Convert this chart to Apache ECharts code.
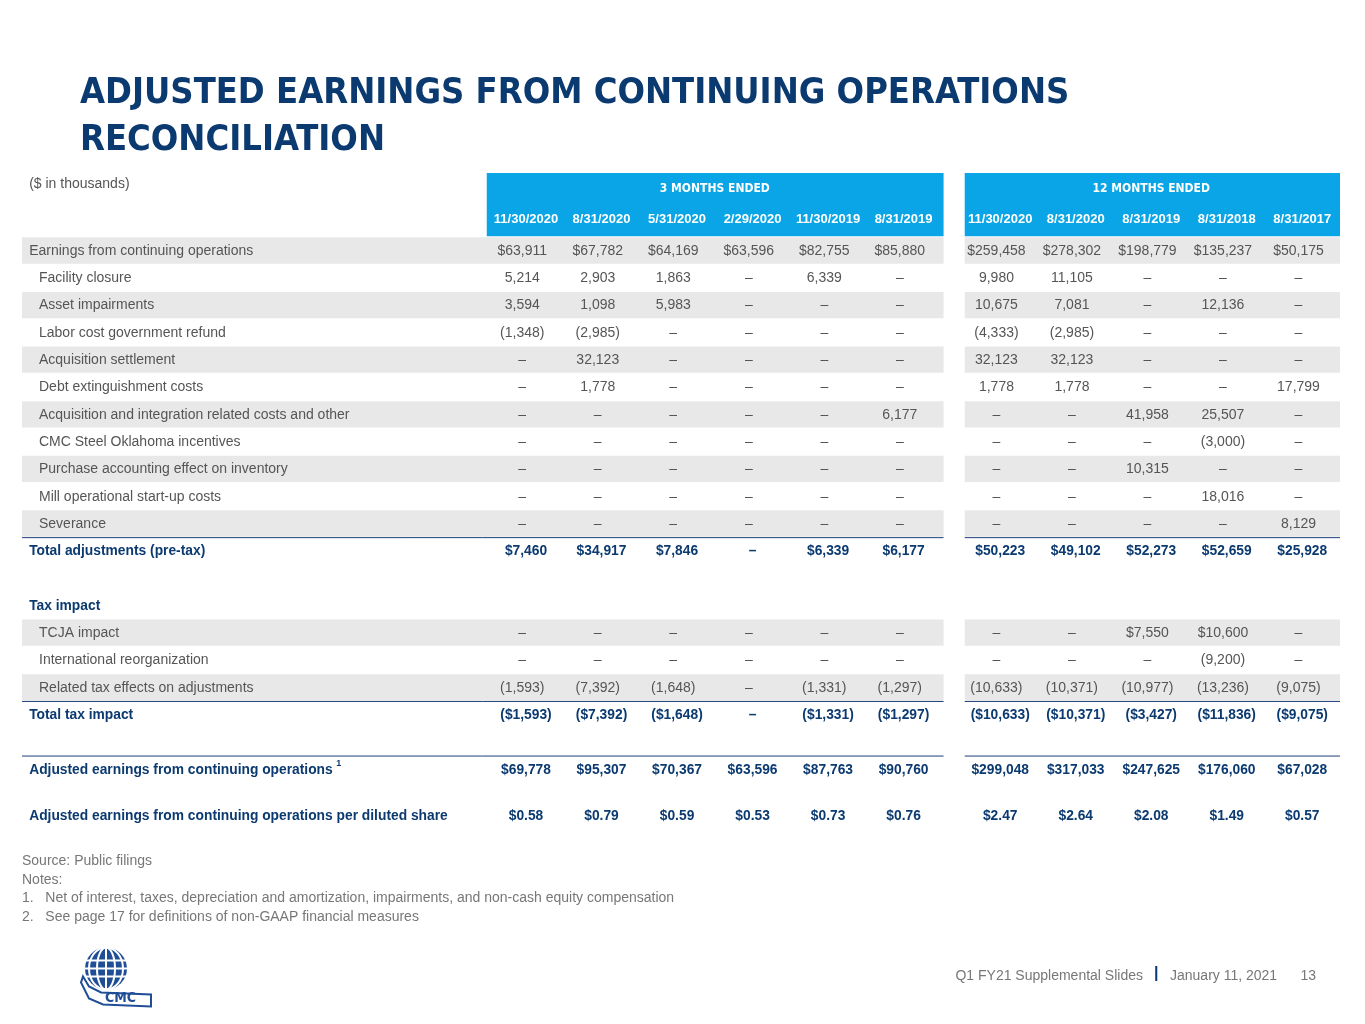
<!DOCTYPE html>
<html><head><meta charset="utf-8">
<script src="https://cdn.jsdelivr.net/npm/echarts@6/dist/echarts.min.js"></script>
<style>html,body{margin:0;padding:0;background:#fff}#c{width:1365px;height:1024px}</style>
</head><body><div id="c"></div>
<script>
const cols3 = ['11/30/2020','8/31/2020','5/31/2020','2/29/2020','11/30/2019','8/31/2019'];
const cols12 = ['11/30/2020','8/31/2020','8/31/2019','8/31/2018','8/31/2017'];
const D='–';
const earnings      = ['$63,911','$67,782','$64,169','$63,596','$82,755','$85,880','$259,458','$278,302','$198,779','$135,237','$50,175'];
const facility      = ['5,214','2,903','1,863',D,'6,339',D,'9,980','11,105',D,D,D];
const impairments   = ['3,594','1,098','5,983',D,D,D,'10,675','7,081',D,'12,136',D];
const laborRefund   = ['(1,348)','(2,985)',D,D,D,D,'(4,333)','(2,985)',D,D,D];
const acqSettlement = [D,'32,123',D,D,D,D,'32,123','32,123',D,D,D];
const debtExt       = [D,'1,778',D,D,D,D,'1,778','1,778',D,D,'17,799'];
const acqIntegration= [D,D,D,D,D,'6,177',D,D,'41,958','25,507',D];
const oklahoma      = [D,D,D,D,D,D,D,D,D,'(3,000)',D];
const purchaseAcct  = [D,D,D,D,D,D,D,D,'10,315',D,D];
const millStartup   = [D,D,D,D,D,D,D,D,D,'18,016',D];
const severance     = [D,D,D,D,D,D,D,D,D,D,'8,129'];
const totalAdj      = ['$7,460','$34,917','$7,846',D,'$6,339','$6,177','$50,223','$49,102','$52,273','$52,659','$25,928'];
const tcja          = [D,D,D,D,D,D,D,D,'$7,550','$10,600',D];
const intlReorg     = [D,D,D,D,D,D,D,D,D,'(9,200)',D];
const relatedTax    = ['(1,593)','(7,392)','(1,648)',D,'(1,331)','(1,297)','(10,633)','(10,371)','(10,977)','(13,236)','(9,075)'];
const totalTax      = ['($1,593)','($7,392)','($1,648)',D,'($1,331)','($1,297)','($10,633)','($10,371)','($3,427)','($11,836)','($9,075)'];
const adjusted      = ['$69,778','$95,307','$70,367','$63,596','$87,763','$90,760','$299,048','$317,033','$247,625','$176,060','$67,028'];
const perShare      = ['$0.58','$0.79','$0.59','$0.53','$0.73','$0.76','$2.47','$2.64','$2.08','$1.49','$0.57'];

const rows = [
 ['Earnings from continuing operations', earnings,'main',0],
 ['Facility closure', facility,'sub',1],
 ['Asset impairments', impairments,'sub',2],
 ['Labor cost government refund', laborRefund,'sub',3],
 ['Acquisition settlement', acqSettlement,'sub',4],
 ['Debt extinguishment costs', debtExt,'sub',5],
 ['Acquisition and integration related costs and other', acqIntegration,'sub',6],
 ['CMC Steel Oklahoma incentives', oklahoma,'sub',7],
 ['Purchase accounting effect on inventory', purchaseAcct,'sub',8],
 ['Mill operational start-up costs', millStartup,'sub',9],
 ['Severance', severance,'sub',10],
 ['Total adjustments (pre-tax)', totalAdj,'total',11],
 ['Tax impact', null,'total',13],
 ['TCJA impact', tcja,'sub',14],
 ['International reorganization', intlReorg,'sub',15],
 ['Related tax effects on adjustments', relatedTax,'sub',16],
 ['Total tax impact', totalTax,'total',17],
 ['Adjusted earnings from continuing operations', adjusted,'total',19],
 ['Adjusted earnings from continuing operations per diluted share', perShare,'total',20.7]
];
const shaded=[0,2,4,6,8,10,14,16];
const colX = i => i<6 ? i : i+0.28;

const NAVY='#0b3a70', GREY='#555', BLUE='#0aa5e6';
const FB='bold 13.8px "Liberation Sans", Arial', FN='14px "Liberation Sans", Arial';
const texts=[];
rows.forEach(r=>{
  const bold=r[2]==='total';
  texts.push({x: r[2]==='sub'? -6.45 : -6.58, y:r[3], t:r[0], align:'left', fill: bold?NAVY:GREY, font: bold?FB:FN, sup: r[3]===19});
  if(r[1]) r[1].forEach((v,i)=>texts.push({x:colX(i)+(bold?0:-0.05), y:r[3], t:v, align:'center', fill: bold?NAVY:GREY, font: bold?FB:FN}));
});
cols3.concat(cols12).forEach((c,i)=>texts.push({x:colX(i),y:-1.14,t:c,align:'center',fill:'#fff',font:'bold 13px "Liberation Sans", Arial'}));
texts.push({x:2.5,y:-2.27,t:'3 MONTHS ENDED',align:'center',fill:'#fff',font:'bold 12px "DejaVu Sans Condensed", Arial'});
texts.push({x:8.28,y:-2.27,t:'12 MONTHS ENDED',align:'center',fill:'#fff',font:'bold 12px "DejaVu Sans Condensed", Arial'});
texts.push({x:-6.58,y:-2.45,t:'($ in thousands)',align:'left',fill:GREY,font:FN});

const rects=[];
rects.push([-0.52,5.53,-2.86,-0.5,BLUE]);
rects.push([5.81,10.78,-2.86,-0.5,BLUE]);
shaded.forEach(r=>{
  rects.push([-6.675,5.53,r-0.5,r+0.5,'#e8e8e8']);
  rects.push([5.81,10.78,r-0.5,r+0.5,'#e8e8e8']);
});
const lines=[];
[10.5,16.5,18.5].forEach(y=>{lines.push([-6.675,5.53,y]);lines.push([5.81,10.78,y]);});

const chart=echarts.init(document.getElementById('c'));
chart.setOption({
  animation:false,
  grid:{left:22,width:1318,top:169.1,height:655.2},
  xAxis:{type:'value',min:-6.675,max:10.78,show:false},
  yAxis:{type:'value',min:-3,max:21,inverse:true,show:false},
  series:[
    {type:'custom',data:rects.map(r=>[r[0],r[2]]),renderItem:(p,api)=>{
      const r=rects[p.dataIndex];const a=api.coord([r[0],r[2]]),b=api.coord([r[1],r[3]]);
      return {type:'rect',shape:{x:a[0],y:a[1],width:b[0]-a[0],height:b[1]-a[1]-1},style:{fill:r[4]}};}},
    {type:'custom',data:lines.map(l=>[l[0],l[2]]),renderItem:(p,api)=>{
      const l=lines[p.dataIndex];const a=api.coord([l[0],l[2]]),b=api.coord([l[1],l[2]]);
      return {type:'line',shape:{x1:a[0],y1:a[1],x2:b[0],y2:b[1]},style:{stroke:'#1c3f78',lineWidth:1}};}},
    {type:'custom',data:texts.map(t=>[t.x,t.y]),renderItem:(p,api)=>{
      const t=texts[p.dataIndex];const a=api.coord([t.x,t.y]);
      const el={type:'text',style:{text:t.t,x:a[0],y:a[1],align:t.align,verticalAlign:'middle',fill:t.fill,font:t.font}};
      if(t.sup){return {type:'group',children:[el,{type:'text',style:{text:'1',x:a[0]+307,y:a[1]-6,align:'left',verticalAlign:'middle',fill:t.fill,font:'bold 9px "Liberation Sans", Arial'}}]};}
      return el;}}
  ],
  graphic:[
    {type:'text',left:80,top:70,style:{text:'ADJUSTED EARNINGS FROM CONTINUING OPERATIONS\nRECONCILIATION',fill:NAVY,font:'bold 36px "DejaVu Sans Condensed", Arial',lineHeight:47}},
    {type:'text',left:22,top:852,style:{text:'Source: Public filings\nNotes:\n1.   Net of interest, taxes, depreciation and amortization, impairments, and non-cash equity compensation\n2.   See page 17 for definitions of non-GAAP financial measures',fill:'#777',font:'14px "Liberation Sans", Arial',lineHeight:18.5}},
    {type:'text',right:222,top:969,style:{text:'Q1 FY21 Supplemental Slides',fill:'#777',font:'14px "Liberation Sans", Arial'}},
    {type:'text',left:1154,top:966,style:{text:'|',fill:NAVY,font:'bold 16px "Liberation Sans", Arial'}},
    {type:'text',left:1170,top:969,style:{text:'January 11, 2021      13',fill:'#777',font:'14px "Liberation Sans", Arial'}},
    {type:'group',left:80,top:945,children:[
      {type:'circle',shape:{cx:25,cy:22,r:21},style:{fill:'#1f4e96'}},
      {type:'line',shape:{x1:4,y1:14,x2:46,y2:14},style:{stroke:'#fff',lineWidth:2}},
      {type:'line',shape:{x1:4,y1:22,x2:46,y2:22},style:{stroke:'#fff',lineWidth:2}},
      {type:'line',shape:{x1:4,y1:30,x2:46,y2:30},style:{stroke:'#fff',lineWidth:2}},
      {type:'line',shape:{x1:25,y1:1,x2:25,y2:43},style:{stroke:'#fff',lineWidth:2}},
      {type:'ellipse',shape:{cx:25,cy:22,rx:9,ry:21},style:{fill:'none',stroke:'#fff',lineWidth:2}},
      {type:'ellipse',shape:{cx:25,cy:22,rx:17,ry:21},style:{fill:'none',stroke:'#fff',lineWidth:2}},
      {type:'polygon',shape:{points:[[2,30],[8,40],[20,46],[70,48],[70,60],[22,58],[8,52],[0,36]]},style:{fill:'#fff',stroke:'#1f4e96',lineWidth:2}},
      {type:'text',x:24,y:45,style:{text:'CMC',fill:'#1f4e96',font:'bold 14px "DejaVu Sans Condensed", Arial'}}
    ]}
  ]
});
</script></body></html>
